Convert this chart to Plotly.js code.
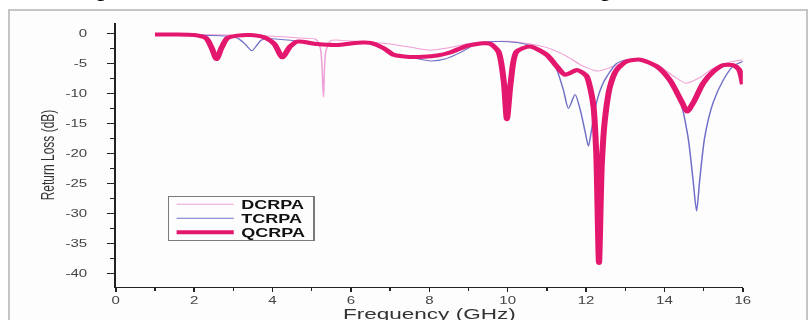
<!DOCTYPE html>
<html>
<head>
<meta charset="utf-8">
<script src="https://cdn.plot.ly/plotly-3.0.1.min.js"></script>
<style>
  html, body { margin: 0; padding: 0; width: 812px; height: 320px; overflow: hidden; background: #ffffff; }
  #frame {
    position: absolute; left: 8px; top: 9px; width: 800px; height: 330px;
    border: 2px solid #c6c6c6; background: #fdfdfd; box-sizing: border-box;
  }
  /* the figure is drawn narrow and widened horizontally */
  #wrap {
    position: absolute; left: 0; top: 0; width: 540px; height: 322px;
    transform: scaleX(1.5037); transform-origin: 0 0;
  }
  #caption {
    position: absolute; left: -65.5px; top: -21.5px; white-space: nowrap;
    font-family: "Liberation Serif", "Times New Roman", serif; font-size: 20px; line-height: 20px; color: #000;
  }
  #chart { position: absolute; left: 0; top: 0; width: 540px; height: 322px; }
</style>
</head>
<body>
<div id="frame"></div>
<div id="wrap">
  <div id="caption">Return loss comparison of DCRPA, TCRPA, and QCRPA performance</div>
  <div id="chart"></div>
</div>
<script>
// Return loss (dB) versus frequency (GHz) for the three antenna prototypes
const seriesNames = ["DCRPA", "TCRPA", "QCRPA"];

const dcrpaFreq = [1.0, 2.0, 3.0, 4.0, 4.7, 5.1, 5.22, 5.3, 5.36, 5.5, 6.0, 6.4, 7.0, 7.5, 8.0, 8.5, 9.0, 9.5,
  10.0, 10.5, 11.0, 11.5, 11.9, 12.3, 12.7, 13.1, 13.5, 13.9, 14.2, 14.55, 14.9, 15.2, 15.6, 16.0];
const dcrpaLoss = [-0.1, -0.2, -0.3, -0.5, -0.8, -1.0, -2.5, -10.6, -3.0, -1.2, -1.3, -1.4, -1.8, -2.3, -2.8, -2.4, -1.7, -1.4,
  -1.35, -1.7, -2.4, -3.8, -5.4, -6.3, -5.5, -4.6, -4.6, -5.6, -7.0, -8.3, -7.4, -6.0, -4.9, -4.4];

const tcrpaFreq = [1.0, 2.0, 2.8, 3.1, 3.3, 3.47, 3.6, 3.7, 3.8, 4.0, 4.5, 5.0, 5.65, 6.3, 6.84, 7.1, 7.5, 8.03, 8.4, 8.8,
  9.1, 9.4, 10.0, 10.5, 10.9, 11.1, 11.25, 11.42, 11.55, 11.72, 11.85, 11.98, 12.06, 12.14, 12.27, 12.4, 12.53, 12.78,
  13.03, 13.4, 13.8, 14.05, 14.39, 14.6, 14.73, 14.82, 14.9, 15.03, 15.24, 15.5, 15.75, 16.0];
const tcrpaLoss = [-0.2, -0.3, -0.45, -0.8, -1.8, -2.9, -2.0, -1.2, -1.0, -0.9, -1.2, -1.6, -1.95, -1.55, -2.5, -3.4, -4.0, -4.6, -4.3, -3.2,
  -2.1, -1.5, -1.4, -1.9, -3.0, -4.5, -6.0, -9.4, -12.5, -10.2, -12.7, -16.5, -18.8, -16.1, -11.4, -8.8, -7.2, -5.0,
  -4.4, -4.5, -5.5, -7.5, -11.0, -17.2, -24.4, -29.6, -24.4, -17.2, -11.6, -7.8, -5.5, -4.7];

const qcrpaFreq = [1.0, 1.5, 2.0, 2.3, 2.45, 2.57, 2.7, 2.85, 3.1, 3.44, 3.8, 4.05, 4.25, 4.45, 4.63, 5.14, 5.65, 6.0, 6.3,
  6.5, 6.84, 7.09, 7.42, 7.85, 8.2, 8.53, 8.96, 9.38, 9.55, 9.76, 9.9, 9.98, 10.08, 10.23, 10.57, 11.0, 11.25, 11.46,
  11.6, 11.76, 11.92, 12.02, 12.12, 12.19, 12.26, 12.33, 12.4, 12.48, 12.61, 12.78, 13.03, 13.38, 13.8, 14.14, 14.44,
  14.58, 14.73, 14.99, 15.24, 15.5, 15.75, 15.9, 16.0];
const qcrpaLoss = [-0.2, -0.2, -0.3, -0.8, -2.5, -4.3, -2.4, -0.8, -0.4, -0.3, -0.7, -1.8, -4.0, -2.2, -1.4, -1.8, -1.95, -1.7, -1.55,
  -1.6, -2.5, -3.6, -3.9, -3.9, -3.7, -3.2, -2.1, -1.66, -1.75, -3.0, -8.0, -14.3, -8.0, -3.05, -2.2, -3.6, -5.5, -6.9,
  -6.6, -6.1, -6.6, -7.2, -9.5, -12.2, -20.0, -38.2, -22.0, -14.4, -8.9, -6.1, -4.7, -4.4, -5.5, -7.8, -11.4,
  -13.0, -11.6, -8.3, -6.4, -5.3, -5.3, -6.0, -8.5];

const xTickVals = [0, 2, 4, 6, 8, 10, 12, 14, 16];
const yTickVals = [0, -5, -10, -15, -20, -25, -30, -35, -40];

const axisFont = { family: "Liberation Sans, Arial, sans-serif", size: 10, color: "#444" };

const traces = [
  { x: dcrpaFreq, y: dcrpaLoss, name: seriesNames[0], type: "scatter", mode: "lines",
    line: { color: "#ee9fd6", width: 1, shape: "spline", smoothing: 0.7 } },
  { x: tcrpaFreq, y: tcrpaLoss, name: seriesNames[1], type: "scatter", mode: "lines",
    line: { color: "#7070c8", width: 1, shape: "spline", smoothing: 0.7 } },
  { x: qcrpaFreq, y: qcrpaLoss, name: seriesNames[2], type: "scatter", mode: "lines",
    line: { color: "#e4176e", width: 4, shape: "spline", smoothing: 0.7 } }
];

const layout = {
  width: 540, height: 322,
  margin: { l: 76.5, r: 45.9, t: 23.1, b: 34.6 },
  paper_bgcolor: "rgba(0,0,0,0)", plot_bgcolor: "rgba(0,0,0,0)",
  showlegend: true,
  legend: {
    x: 0.0826, y: 0.3458, xanchor: "left", yanchor: "top",
    bgcolor: "rgba(255,255,255,0)", bordercolor: "#7a7a7a", borderwidth: 1,
    font: { family: "Liberation Sans, Arial, sans-serif", size: 12, color: "#111", weight: "bold" },
    itemwidth: 38, tracegroupgap: 0
  },
  xaxis: {
    range: [0, 16], tickvals: xTickVals, ticktext: xTickVals.map(String),
    showline: true, linecolor: "#222", linewidth: 1, showgrid: false, zeroline: false,
    ticks: "outside", ticklen: 4, tickcolor: "#222", tickfont: axisFont,
    minor: { dtick: 1, ticks: "outside", ticklen: 3, tickcolor: "#222" },
    title: { text: "Frequency (GHz)", font: { family: "Liberation Sans, Arial, sans-serif", size: 15, color: "#333" } }
  },
  yaxis: {
    range: [-42.2, 1.7], tickvals: yTickVals, ticktext: yTickVals.map(String),
    showline: true, linecolor: "#222", linewidth: 1, showgrid: false, zeroline: false,
    ticks: "outside", ticklen: 5, tickcolor: "#222", tickfont: axisFont, ticklabelstandoff: 11,
    minor: { dtick: 2.5, ticks: "outside", ticklen: 3, tickcolor: "#222" },
    title: { text: "Return Loss (dB)", font: { family: "Liberation Sans, Arial, sans-serif", size: 12, color: "#333" }, standoff: 4 }
  }
};

// tighten the legend rows to a compact 14 px pitch
function compactLegend(gd) {
  const rows = gd.querySelectorAll(".legend .traces");
  if (rows.length < 2) return;
  const parse = (el) => {
    const m = /translate\(\s*([-\d.e]+)[ ,]+([-\d.e]+)\s*\)/.exec(el.getAttribute("transform") || "");
    return m ? [parseFloat(m[1]), parseFloat(m[2])] : null;
  };
  const first = parse(rows[0]);
  const second = parse(rows[1]);
  if (!first || !second) return;
  const oldPitch = second[1] - first[1];
  const pitch = 14, lift = 7;
  rows.forEach((row, i) => {
    const p = parse(row);
    if (p) row.setAttribute("transform", "translate(" + p[0] + "," + (first[1] - lift + i * pitch) + ")");
  });
  const bg = gd.querySelector(".legend .bg");
  if (bg) {
    const h = parseFloat(bg.getAttribute("height"));
    bg.setAttribute("height", h - (oldPitch - pitch) * (rows.length - 1) - lift * 2);
  }
}

Plotly.newPlot("chart", traces, layout, { staticPlot: true, displayModeBar: false }).then(compactLegend);
</script>
</body>
</html>
